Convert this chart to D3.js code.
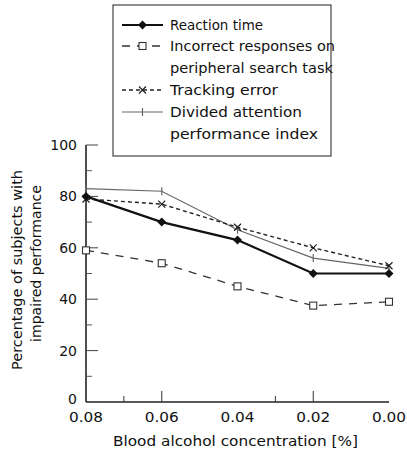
<!DOCTYPE html>
<html><head><meta charset="utf-8">
<script src="https://cdn.jsdelivr.net/npm/d3@7"></script>
<style>body{margin:0;background:#fff}svg{display:block}text{font-family:"DejaVu Sans",sans-serif;fill:#111}</style>
</head><body><svg id="c" width="407" height="456"></svg>
<script>
const concentrations = [0.08, 0.06, 0.04, 0.02, 0.00];
const reactionTime = [80, 70, 63, 50, 50];
const incorrectResponses = [59, 54, 45, 37.5, 39];
const trackingError = [79, 77, 68, 60, 53];
const dividedAttention = [83, 82, 67, 56, 52];
const xTickLabels = ["0.08", "0.06", "0.04", "0.02", "0.00"];
const yTickValues = [0, 20, 40, 60, 80, 100];
const seriesNames = [["Reaction time"], ["Incorrect responses on", "peripheral search task"], ["Tracking error"], ["Divided attention", "performance index"]];

const svg = d3.select("#c");
const x = d3.scaleLinear().domain([0.08, 0.0]).range([86, 389]);
const y = d3.scaleLinear().domain([0, 100]).range([402, 145]);

function fit(t, w) { t.attr("textLength", w).attr("lengthAdjust", "spacingAndGlyphs"); return t; }

// axes
const g = svg.append("g");
g.append("line").attr("x1", x(0.08)).attr("x2", x(0.0)).attr("y1", y(0)).attr("y2", y(0)).attr("stroke", "#222").attr("stroke-width", 1.6);
g.append("line").attr("x1", x(0.08)).attr("x2", x(0.08)).attr("y1", y(0)).attr("y2", y(100)).attr("stroke", "#222").attr("stroke-width", 1.6);
d3.range(10, 101, 10).forEach(v => {
  const major = v % 20 === 0;
  g.append("line").attr("x1", x(0.08)).attr("x2", x(0.08) + (major ? 12 : 6)).attr("y1", y(v)).attr("y2", y(v)).attr("stroke", major ? "#444" : "#555").attr("stroke-width", 1);
});
yTickValues.forEach(v => {
  g.append("text").attr("x", 77).attr("y", v === 0 ? y(v) + 2 : y(v) + 5).attr("text-anchor", "end").attr("font-size", 14).text(v);
});
[[0.07, 6], [0.06, 11], [0.03, 6], [0.02, 11]].forEach(([v, l]) => {
  g.append("line").attr("x1", x(v)).attr("x2", x(v)).attr("y1", y(0)).attr("y2", y(0) - l).attr("stroke", "#333").attr("stroke-width", 1);
});
concentrations.forEach((c, i) => {
  fit(g.append("text").attr("x", x(c) - 17).attr("y", 422).attr("font-size", 14).text(xTickLabels[i]), 34);
});
fit(svg.append("text").attr("x", 113).attr("y", 446).attr("font-size", 14).text("Blood alcohol concentration [%]"), 245);
const yl = svg.append("g").attr("transform", "rotate(-90)");
fit(yl.append("text").attr("x", -370).attr("y", 22).attr("font-size", 14).text("Percentage of subjects with"), 200);
fit(yl.append("text").attr("x", -342).attr("y", 41).attr("font-size", 14).text("impaired performance"), 157);

// series
const styles = [
  {data: reactionTime, color: "#111", width: 2.2, dash: null, marker: "diamond"},
  {data: incorrectResponses, color: "#333", width: 1.3, dash: "8,7", marker: "square"},
  {data: trackingError, color: "#222", width: 1.4, dash: "4,3", marker: "cross"},
  {data: dividedAttention, color: "#666", width: 1.2, dash: null, marker: "tick"}
];
const line = d3.line().x(d => x(d.c)).y(d => y(d.v));
function drawMarker(sel, type, cx, cy, color) {
  if (type === "diamond") sel.append("path").attr("d", `M${cx},${cy-4.5}L${cx+4.5},${cy}L${cx},${cy+4.5}L${cx-4.5},${cy}Z`).attr("fill", color);
  else if (type === "square") sel.append("rect").attr("x", cx-3.5).attr("y", cy-3.5).attr("width", 7).attr("height", 7).attr("fill", "#fff").attr("stroke", color).attr("stroke-width", 1.1);
  else if (type === "cross") sel.append("path").attr("d", `M${cx-3.5},${cy-3.5}L${cx+3.5},${cy+3.5}M${cx-3.5},${cy+3.5}L${cx+3.5},${cy-3.5}`).attr("stroke", color).attr("stroke-width", 1.2);
  else if (type === "tick") sel.append("path").attr("d", `M${cx},${cy-4}L${cx},${cy+4}`).attr("stroke", color).attr("stroke-width", 1.2);
}
[3, 1, 2, 0].forEach(si => {
  const s = styles[si];
  const pts = concentrations.map((c, i) => ({c, v: s.data[i]}));
  svg.append("path").attr("d", line(pts)).attr("fill", "none").attr("stroke", s.color).attr("stroke-width", s.width).attr("stroke-dasharray", s.dash);
  pts.forEach(p => drawMarker(svg, s.marker, x(p.c), y(p.v), s.color));
});

// legend
const lg = svg.append("g");
lg.append("rect").attr("x", 113).attr("y", 5).attr("width", 218).attr("height", 151).attr("fill", "#fff").attr("stroke", "#444").attr("stroke-width", 1.2);
const rows = [25, 46, 90, 112];
const widths = [[93], [165, 163], [108], [132, 148]];
seriesNames.forEach((names, i) => {
  const s = styles[i];
  const ly = rows[i];
  lg.append("line").attr("x1", 122).attr("x2", 163).attr("y1", ly).attr("y2", ly).attr("stroke", s.color).attr("stroke-width", s.width).attr("stroke-dasharray", s.dash);
  drawMarker(lg, s.marker, 142.5, ly, s.color);
  names.forEach((n, j) => fit(lg.append("text").attr("x", 170).attr("y", ly + 5 + j * 21.5).attr("font-size", 14).text(n), widths[i][j]));
});
</script></body></html>
